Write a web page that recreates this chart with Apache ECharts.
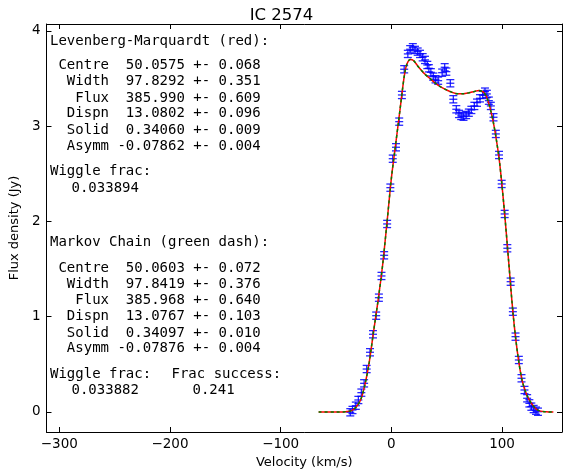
<!DOCTYPE html>
<html>
<head>
<meta charset="utf-8">
<script src="https://cdn.jsdelivr.net/npm/echarts@6/dist/echarts.min.js"></script>
<style>html,body{margin:0;padding:0;background:#fff;}#c{width:563px;height:475px;}</style>
</head>
<body>
<div id="c"></div>
<script>
// Observed spectrum (km/s, Jy)
const velocity = [-37.1,-35.1,-32.1,-29.8,-27.1,-24.6,-22.3,-19.3,-16.6,-13.7,-11.25,-8.9,-6.5,-3.8,-0.9,1.25,4.2,7.1,9.55,11.6,14.9,17.0,19.4,21.4,23.8,25.9,28.3,30.4,32.5,33.9,35.7,37.9,39.9,42.3,45.9,48.2,49.7,53.3,56.0,58.7,61.1,63.1,65.2,67.6,70.0,72.3,75.0,77.4,80.1,82.5,84.6,86.3,88.1,89.9,92.3,94.4,97.3,99.7,102.4,104.8,107.8,109.8,112.2,115.2,117.6,120.3,122.7,124.7,126.5,128.6,130.7,132.5];
const flux = [-0.003,0.021,0.066,0.126,0.203,0.301,0.451,0.627,0.816,1.011,1.2,1.428,1.645,1.974,2.355,2.659,2.779,3.048,3.328,3.598,3.759,3.808,3.829,3.801,3.783,3.759,3.724,3.696,3.643,3.608,3.566,3.520,3.493,3.478,3.562,3.619,3.573,3.451,3.283,3.178,3.129,3.108,3.100,3.118,3.142,3.171,3.213,3.247,3.293,3.328,3.363,3.339,3.268,3.213,3.094,2.919,2.698,2.394,2.079,1.719,1.368,1.053,0.791,0.546,0.354,0.231,0.144,0.091,0.056,0.031,0.014,0.003];
const fluxErr = 0.038;
// Model fits (LM red, MCMC green dash -- visually identical)
const modelVel = [-65.7,-50,-44,-40,-36,-32,-28,-24,-20,-16,-12,-8,-4,0,4,8,10,12,14,17,20,24,30,35,40,45,50,55,60,65,70,75,79,83,86,89,92,95,98,102,106,110,114,118,122,126,130,134,140,146.4];
const lmFlux = [0,0,0.001,0.004,0.015,0.05,0.12,0.28,0.52,0.85,1.17,1.53,1.98,2.45,2.82,3.19,3.38,3.55,3.65,3.70,3.69,3.63,3.55,3.50,3.45,3.41,3.38,3.355,3.34,3.34,3.35,3.365,3.375,3.36,3.31,3.20,3.05,2.85,2.60,2.13,1.58,1.03,0.62,0.34,0.19,0.10,0.04,0.012,0.002,0];
const mcmcFlux = lmFlux.slice();
const xTicks = [-300,-200,-100,0,100];
const yTicks = [0,1,2,3,4];
const titleText = 'IC 2574';
const lmLines = ['Levenberg-Marquardt (red):',' Centre  50.0575 +- 0.068','  Width  97.8292 +- 0.351','   Flux  385.990 +- 0.609','  Dispn  13.0802 +- 0.096','  Solid  0.34060 +- 0.009','  Asymm -0.07862 +- 0.004','Wiggle frac:'];
const mcLines = ['Markov Chain (green dash):',' Centre  50.0603 +- 0.072','  Width  97.8419 +- 0.376','   Flux  385.968 +- 0.640','  Dispn  13.0767 +- 0.103','  Solid  0.34097 +- 0.010','  Asymm -0.07876 +- 0.004','Wiggle frac:'];
const lmWiggle = '0.033894', mcWiggle = '0.033882', fracSuccessLabel = 'Frac success:', fracSuccess = '0.241';

const lmY = [41,65,81.7,98,113.5,130,146,171];
const mcY = [242.7,268.3,284,300.7,316,333.3,348.3,374];

const chart = echarts.init(document.getElementById('c'), null, {renderer:'canvas'});
const mono = '14px "DejaVu Sans Mono"';
const graphics = [];
lmLines.forEach((t,i)=>graphics.push({type:'text',x:50,y:lmY[i],style:{text:t,font:mono,fill:'#000',verticalAlign:'middle'}}));
mcLines.forEach((t,i)=>graphics.push({type:'text',x:50,y:mcY[i],style:{text:t,font:mono,fill:'#000',verticalAlign:'middle'}}));
graphics.push({type:'text',x:71.5,y:188,style:{text:lmWiggle,font:mono,fill:'#000',verticalAlign:'middle'}});
graphics.push({type:'text',x:71.5,y:390.7,style:{text:mcWiggle,font:mono,fill:'#000',verticalAlign:'middle'}});
graphics.push({type:'text',x:171.5,y:374,style:{text:fracSuccessLabel,font:mono,fill:'#000',verticalAlign:'middle'}});
graphics.push({type:'text',x:192.5,y:390.7,style:{text:fracSuccess,font:mono,fill:'#000',verticalAlign:'middle'}});

const minusFmt = v => String(v).replace('-', '\u2212');
const axisCommon = {
  type:'value', splitLine:{show:false},
  axisLine:{show:true,onZero:false,lineStyle:{color:'#000',width:1}},
  axisTick:{show:true,inside:true,length:5,lineStyle:{color:'#000',width:1}}
};
const xMin=-311.6, xMax=154.2, yMin=-0.21, yMax=4.073;

chart.setOption({
  animation:false,
  backgroundColor:'#fff',
  title:{text:titleText,left:'center',top:2,textStyle:{fontFamily:'DejaVu Sans',fontSize:16.5,fontWeight:'normal',color:'#000'}},
  grid:{left:39,right:1,top:24,bottom:43,containLabel:false},
  xAxis:[
    Object.assign({},axisCommon,{position:'bottom',min:xMin,max:xMax,
      axisTick:Object.assign({},axisCommon.axisTick,{customValues:xTicks}),
      axisLabel:{customValues:xTicks,formatter:minusFmt,margin:5,color:'#000',fontFamily:'DejaVu Sans',fontSize:13.5},
      name:'Velocity (km/s)',nameLocation:'middle',nameGap:21,nameTextStyle:{fontFamily:'DejaVu Sans',fontSize:13,color:'#000'}}),
    Object.assign({},axisCommon,{position:'top',min:xMin,max:xMax,
      axisTick:Object.assign({},axisCommon.axisTick,{customValues:xTicks}),
      axisLabel:{show:false}})
  ],
  yAxis:[
    Object.assign({},axisCommon,{position:'left',min:yMin,max:yMax,
      axisTick:Object.assign({},axisCommon.axisTick,{customValues:yTicks}),
      axisLabel:{customValues:yTicks,margin:6,color:'#000',fontFamily:'DejaVu Sans',fontSize:13.5},
      name:'Flux density (Jy)',nameLocation:'middle',nameGap:18,nameTextStyle:{fontFamily:'DejaVu Sans',fontSize:13,color:'#000'}}),
    Object.assign({},axisCommon,{position:'right',min:yMin,max:yMax,
      axisTick:Object.assign({},axisCommon.axisTick,{customValues:yTicks}),
      axisLabel:{show:false}})
  ],
  graphic:graphics,
  series:[
    {type:'custom',xAxisIndex:0,yAxisIndex:0,z:1,
     data:velocity.map((v,i)=>[v,flux[i],fluxErr]),
     renderItem:function(params,api){
       const x=api.value(0),y=api.value(1),e=api.value(2);
       const c=api.coord([x,y]),t=api.coord([x,y+e]),b=api.coord([x,y-e]);
       const hw=4;
       const st={stroke:'#0000ff',lineWidth:1.3,opacity:0.85};
       return {type:'group',children:[
         {type:'line',shape:{x1:c[0],y1:t[1],x2:c[0],y2:b[1]},style:st},
         {type:'line',shape:{x1:c[0]-hw,y1:t[1],x2:c[0]+hw,y2:t[1]},style:st},
         {type:'line',shape:{x1:c[0]-hw,y1:b[1],x2:c[0]+hw,y2:b[1]},style:st},
         {type:'line',shape:{x1:c[0]-hw,y1:c[1],x2:c[0]+hw,y2:c[1]},style:st}
       ]};
     }},
    {type:'line',z:2,showSymbol:false,smooth:0.3,data:modelVel.map((v,i)=>[v,lmFlux[i]]),lineStyle:{color:'#ff0000',width:1.5}},
    {type:'line',z:3,showSymbol:false,smooth:0.3,data:modelVel.map((v,i)=>[v,mcmcFlux[i]]),lineStyle:{color:'#008000',width:1.5,type:[3,3]}}
  ]
});
</script>
</body>
</html>
